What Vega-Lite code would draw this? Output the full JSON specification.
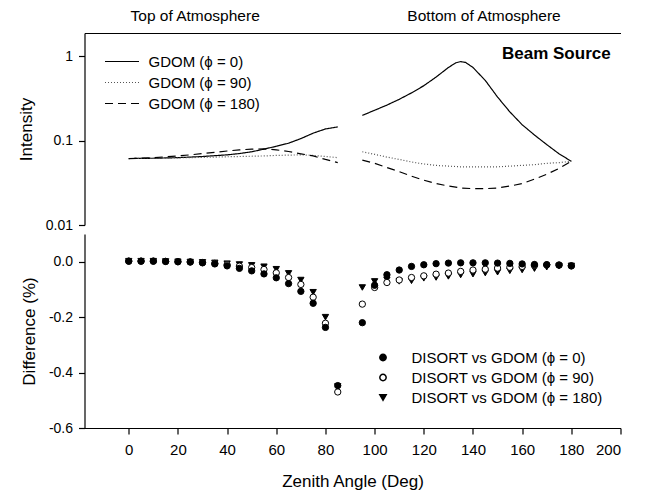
{
  "$schema": "https://vega.github.io/schema/vega-lite/v6.json",
  "padding": {"left": 16.5, "top": 8, "right": 5, "bottom": 2},
  "config": {
    "view": {"stroke": null},
    "font": "Liberation Sans",
    "axis": {"grid": false, "domainColor": "black", "tickColor": "black", "labelColor": "black", "titleColor": "black", "labelFontSize": 14, "titleFontSize": 17, "titleFontWeight": "normal", "tickSize": 6, "labelPadding": 6, "domainWidth": 1.2, "tickWidth": 1.2},
    "rule": {"color": "black", "strokeWidth": 1.2},
    "text": {"color": "black"}
  },
  "datasets": {
    "intensity": [
      {"angle": 0, "intensity": 0.0615, "series": "GDOM (ϕ = 0)", "part": "top"},
      {"angle": 5, "intensity": 0.0617, "series": "GDOM (ϕ = 0)", "part": "top"},
      {"angle": 10, "intensity": 0.062, "series": "GDOM (ϕ = 0)", "part": "top"},
      {"angle": 15, "intensity": 0.0625, "series": "GDOM (ϕ = 0)", "part": "top"},
      {"angle": 20, "intensity": 0.063, "series": "GDOM (ϕ = 0)", "part": "top"},
      {"angle": 25, "intensity": 0.064, "series": "GDOM (ϕ = 0)", "part": "top"},
      {"angle": 30, "intensity": 0.065, "series": "GDOM (ϕ = 0)", "part": "top"},
      {"angle": 35, "intensity": 0.0665, "series": "GDOM (ϕ = 0)", "part": "top"},
      {"angle": 40, "intensity": 0.068, "series": "GDOM (ϕ = 0)", "part": "top"},
      {"angle": 45, "intensity": 0.0705, "series": "GDOM (ϕ = 0)", "part": "top"},
      {"angle": 50, "intensity": 0.074, "series": "GDOM (ϕ = 0)", "part": "top"},
      {"angle": 55, "intensity": 0.0795, "series": "GDOM (ϕ = 0)", "part": "top"},
      {"angle": 60, "intensity": 0.086, "series": "GDOM (ϕ = 0)", "part": "top"},
      {"angle": 65, "intensity": 0.0935, "series": "GDOM (ϕ = 0)", "part": "top"},
      {"angle": 70, "intensity": 0.106, "series": "GDOM (ϕ = 0)", "part": "top"},
      {"angle": 75, "intensity": 0.123, "series": "GDOM (ϕ = 0)", "part": "top"},
      {"angle": 80, "intensity": 0.138, "series": "GDOM (ϕ = 0)", "part": "top"},
      {"angle": 85, "intensity": 0.146, "series": "GDOM (ϕ = 0)", "part": "top"},
      {"angle": 95, "intensity": 0.2, "series": "GDOM (ϕ = 0)", "part": "bottom"},
      {"angle": 100, "intensity": 0.23, "series": "GDOM (ϕ = 0)", "part": "bottom"},
      {"angle": 105, "intensity": 0.265, "series": "GDOM (ϕ = 0)", "part": "bottom"},
      {"angle": 110, "intensity": 0.31, "series": "GDOM (ϕ = 0)", "part": "bottom"},
      {"angle": 115, "intensity": 0.37, "series": "GDOM (ϕ = 0)", "part": "bottom"},
      {"angle": 120, "intensity": 0.45, "series": "GDOM (ϕ = 0)", "part": "bottom"},
      {"angle": 125, "intensity": 0.57, "series": "GDOM (ϕ = 0)", "part": "bottom"},
      {"angle": 130, "intensity": 0.74, "series": "GDOM (ϕ = 0)", "part": "bottom"},
      {"angle": 133, "intensity": 0.84, "series": "GDOM (ϕ = 0)", "part": "bottom"},
      {"angle": 135, "intensity": 0.87, "series": "GDOM (ϕ = 0)", "part": "bottom"},
      {"angle": 137, "intensity": 0.85, "series": "GDOM (ϕ = 0)", "part": "bottom"},
      {"angle": 140, "intensity": 0.74, "series": "GDOM (ϕ = 0)", "part": "bottom"},
      {"angle": 145, "intensity": 0.52, "series": "GDOM (ϕ = 0)", "part": "bottom"},
      {"angle": 150, "intensity": 0.33, "series": "GDOM (ϕ = 0)", "part": "bottom"},
      {"angle": 155, "intensity": 0.22, "series": "GDOM (ϕ = 0)", "part": "bottom"},
      {"angle": 160, "intensity": 0.155, "series": "GDOM (ϕ = 0)", "part": "bottom"},
      {"angle": 165, "intensity": 0.117, "series": "GDOM (ϕ = 0)", "part": "bottom"},
      {"angle": 170, "intensity": 0.09, "series": "GDOM (ϕ = 0)", "part": "bottom"},
      {"angle": 175, "intensity": 0.07, "series": "GDOM (ϕ = 0)", "part": "bottom"},
      {"angle": 180, "intensity": 0.057, "series": "GDOM (ϕ = 0)", "part": "bottom"},

      {"angle": 0, "intensity": 0.0615, "series": "GDOM (ϕ = 90)", "part": "top"},
      {"angle": 5, "intensity": 0.0617, "series": "GDOM (ϕ = 90)", "part": "top"},
      {"angle": 10, "intensity": 0.062, "series": "GDOM (ϕ = 90)", "part": "top"},
      {"angle": 15, "intensity": 0.0623, "series": "GDOM (ϕ = 90)", "part": "top"},
      {"angle": 20, "intensity": 0.0627, "series": "GDOM (ϕ = 90)", "part": "top"},
      {"angle": 25, "intensity": 0.063, "series": "GDOM (ϕ = 90)", "part": "top"},
      {"angle": 30, "intensity": 0.0635, "series": "GDOM (ϕ = 90)", "part": "top"},
      {"angle": 35, "intensity": 0.064, "series": "GDOM (ϕ = 90)", "part": "top"},
      {"angle": 40, "intensity": 0.0645, "series": "GDOM (ϕ = 90)", "part": "top"},
      {"angle": 45, "intensity": 0.065, "series": "GDOM (ϕ = 90)", "part": "top"},
      {"angle": 50, "intensity": 0.0655, "series": "GDOM (ϕ = 90)", "part": "top"},
      {"angle": 55, "intensity": 0.066, "series": "GDOM (ϕ = 90)", "part": "top"},
      {"angle": 60, "intensity": 0.067, "series": "GDOM (ϕ = 90)", "part": "top"},
      {"angle": 65, "intensity": 0.0675, "series": "GDOM (ϕ = 90)", "part": "top"},
      {"angle": 70, "intensity": 0.068, "series": "GDOM (ϕ = 90)", "part": "top"},
      {"angle": 75, "intensity": 0.067, "series": "GDOM (ϕ = 90)", "part": "top"},
      {"angle": 80, "intensity": 0.065, "series": "GDOM (ϕ = 90)", "part": "top"},
      {"angle": 85, "intensity": 0.063, "series": "GDOM (ϕ = 90)", "part": "top"},
      {"angle": 95, "intensity": 0.074, "series": "GDOM (ϕ = 90)", "part": "bottom"},
      {"angle": 100, "intensity": 0.069, "series": "GDOM (ϕ = 90)", "part": "bottom"},
      {"angle": 105, "intensity": 0.064, "series": "GDOM (ϕ = 90)", "part": "bottom"},
      {"angle": 110, "intensity": 0.06, "series": "GDOM (ϕ = 90)", "part": "bottom"},
      {"angle": 115, "intensity": 0.056, "series": "GDOM (ϕ = 90)", "part": "bottom"},
      {"angle": 120, "intensity": 0.053, "series": "GDOM (ϕ = 90)", "part": "bottom"},
      {"angle": 125, "intensity": 0.051, "series": "GDOM (ϕ = 90)", "part": "bottom"},
      {"angle": 130, "intensity": 0.05, "series": "GDOM (ϕ = 90)", "part": "bottom"},
      {"angle": 135, "intensity": 0.049, "series": "GDOM (ϕ = 90)", "part": "bottom"},
      {"angle": 140, "intensity": 0.049, "series": "GDOM (ϕ = 90)", "part": "bottom"},
      {"angle": 145, "intensity": 0.049, "series": "GDOM (ϕ = 90)", "part": "bottom"},
      {"angle": 150, "intensity": 0.049, "series": "GDOM (ϕ = 90)", "part": "bottom"},
      {"angle": 155, "intensity": 0.05, "series": "GDOM (ϕ = 90)", "part": "bottom"},
      {"angle": 160, "intensity": 0.051, "series": "GDOM (ϕ = 90)", "part": "bottom"},
      {"angle": 165, "intensity": 0.052, "series": "GDOM (ϕ = 90)", "part": "bottom"},
      {"angle": 170, "intensity": 0.054, "series": "GDOM (ϕ = 90)", "part": "bottom"},
      {"angle": 175, "intensity": 0.055, "series": "GDOM (ϕ = 90)", "part": "bottom"},
      {"angle": 180, "intensity": 0.057, "series": "GDOM (ϕ = 90)", "part": "bottom"},

      {"angle": 0, "intensity": 0.0615, "series": "GDOM (ϕ = 180)", "part": "top"},
      {"angle": 5, "intensity": 0.062, "series": "GDOM (ϕ = 180)", "part": "top"},
      {"angle": 10, "intensity": 0.063, "series": "GDOM (ϕ = 180)", "part": "top"},
      {"angle": 15, "intensity": 0.0645, "series": "GDOM (ϕ = 180)", "part": "top"},
      {"angle": 20, "intensity": 0.066, "series": "GDOM (ϕ = 180)", "part": "top"},
      {"angle": 25, "intensity": 0.068, "series": "GDOM (ϕ = 180)", "part": "top"},
      {"angle": 30, "intensity": 0.0705, "series": "GDOM (ϕ = 180)", "part": "top"},
      {"angle": 35, "intensity": 0.073, "series": "GDOM (ϕ = 180)", "part": "top"},
      {"angle": 40, "intensity": 0.0755, "series": "GDOM (ϕ = 180)", "part": "top"},
      {"angle": 45, "intensity": 0.078, "series": "GDOM (ϕ = 180)", "part": "top"},
      {"angle": 50, "intensity": 0.0795, "series": "GDOM (ϕ = 180)", "part": "top"},
      {"angle": 55, "intensity": 0.08, "series": "GDOM (ϕ = 180)", "part": "top"},
      {"angle": 60, "intensity": 0.078, "series": "GDOM (ϕ = 180)", "part": "top"},
      {"angle": 65, "intensity": 0.0745, "series": "GDOM (ϕ = 180)", "part": "top"},
      {"angle": 70, "intensity": 0.07, "series": "GDOM (ϕ = 180)", "part": "top"},
      {"angle": 75, "intensity": 0.066, "series": "GDOM (ϕ = 180)", "part": "top"},
      {"angle": 80, "intensity": 0.06, "series": "GDOM (ϕ = 180)", "part": "top"},
      {"angle": 85, "intensity": 0.055, "series": "GDOM (ϕ = 180)", "part": "top"},
      {"angle": 95, "intensity": 0.059, "series": "GDOM (ϕ = 180)", "part": "bottom"},
      {"angle": 100, "intensity": 0.054, "series": "GDOM (ϕ = 180)", "part": "bottom"},
      {"angle": 105, "intensity": 0.048, "series": "GDOM (ϕ = 180)", "part": "bottom"},
      {"angle": 110, "intensity": 0.043, "series": "GDOM (ϕ = 180)", "part": "bottom"},
      {"angle": 115, "intensity": 0.038, "series": "GDOM (ϕ = 180)", "part": "bottom"},
      {"angle": 120, "intensity": 0.034, "series": "GDOM (ϕ = 180)", "part": "bottom"},
      {"angle": 125, "intensity": 0.031, "series": "GDOM (ϕ = 180)", "part": "bottom"},
      {"angle": 130, "intensity": 0.029, "series": "GDOM (ϕ = 180)", "part": "bottom"},
      {"angle": 135, "intensity": 0.0275, "series": "GDOM (ϕ = 180)", "part": "bottom"},
      {"angle": 140, "intensity": 0.027, "series": "GDOM (ϕ = 180)", "part": "bottom"},
      {"angle": 145, "intensity": 0.027, "series": "GDOM (ϕ = 180)", "part": "bottom"},
      {"angle": 150, "intensity": 0.0275, "series": "GDOM (ϕ = 180)", "part": "bottom"},
      {"angle": 155, "intensity": 0.029, "series": "GDOM (ϕ = 180)", "part": "bottom"},
      {"angle": 160, "intensity": 0.031, "series": "GDOM (ϕ = 180)", "part": "bottom"},
      {"angle": 165, "intensity": 0.035, "series": "GDOM (ϕ = 180)", "part": "bottom"},
      {"angle": 170, "intensity": 0.04, "series": "GDOM (ϕ = 180)", "part": "bottom"},
      {"angle": 175, "intensity": 0.047, "series": "GDOM (ϕ = 180)", "part": "bottom"},
      {"angle": 180, "intensity": 0.057, "series": "GDOM (ϕ = 180)", "part": "bottom"}
    ],
    "diff": [
      {"angle": 0, "diff": 0.002, "series": "DISORT vs GDOM (ϕ = 180)"},
      {"angle": 5, "diff": 0.002, "series": "DISORT vs GDOM (ϕ = 180)"},
      {"angle": 10, "diff": 0.002, "series": "DISORT vs GDOM (ϕ = 180)"},
      {"angle": 15, "diff": 0.001, "series": "DISORT vs GDOM (ϕ = 180)"},
      {"angle": 20, "diff": 0.0, "series": "DISORT vs GDOM (ϕ = 180)"},
      {"angle": 25, "diff": -0.001, "series": "DISORT vs GDOM (ϕ = 180)"},
      {"angle": 30, "diff": -0.002, "series": "DISORT vs GDOM (ϕ = 180)"},
      {"angle": 35, "diff": -0.004, "series": "DISORT vs GDOM (ϕ = 180)"},
      {"angle": 40, "diff": -0.007, "series": "DISORT vs GDOM (ϕ = 180)"},
      {"angle": 45, "diff": -0.01, "series": "DISORT vs GDOM (ϕ = 180)"},
      {"angle": 50, "diff": -0.013, "series": "DISORT vs GDOM (ϕ = 180)"},
      {"angle": 55, "diff": -0.018, "series": "DISORT vs GDOM (ϕ = 180)"},
      {"angle": 60, "diff": -0.027, "series": "DISORT vs GDOM (ϕ = 180)"},
      {"angle": 65, "diff": -0.042, "series": "DISORT vs GDOM (ϕ = 180)"},
      {"angle": 70, "diff": -0.066, "series": "DISORT vs GDOM (ϕ = 180)"},
      {"angle": 75, "diff": -0.11, "series": "DISORT vs GDOM (ϕ = 180)"},
      {"angle": 80, "diff": -0.2, "series": "DISORT vs GDOM (ϕ = 180)"},
      {"angle": 85, "diff": -0.45, "series": "DISORT vs GDOM (ϕ = 180)"},
      {"angle": 95, "diff": -0.093, "series": "DISORT vs GDOM (ϕ = 180)"},
      {"angle": 100, "diff": -0.071, "series": "DISORT vs GDOM (ϕ = 180)"},
      {"angle": 105, "diff": -0.065, "series": "DISORT vs GDOM (ϕ = 180)"},
      {"angle": 110, "diff": -0.071, "series": "DISORT vs GDOM (ϕ = 180)"},
      {"angle": 115, "diff": -0.069, "series": "DISORT vs GDOM (ϕ = 180)"},
      {"angle": 120, "diff": -0.06, "series": "DISORT vs GDOM (ϕ = 180)"},
      {"angle": 125, "diff": -0.057, "series": "DISORT vs GDOM (ϕ = 180)"},
      {"angle": 130, "diff": -0.053, "series": "DISORT vs GDOM (ϕ = 180)"},
      {"angle": 135, "diff": -0.048, "series": "DISORT vs GDOM (ϕ = 180)"},
      {"angle": 140, "diff": -0.045, "series": "DISORT vs GDOM (ϕ = 180)"},
      {"angle": 145, "diff": -0.041, "series": "DISORT vs GDOM (ϕ = 180)"},
      {"angle": 150, "diff": -0.038, "series": "DISORT vs GDOM (ϕ = 180)"},
      {"angle": 155, "diff": -0.033, "series": "DISORT vs GDOM (ϕ = 180)"},
      {"angle": 160, "diff": -0.03, "series": "DISORT vs GDOM (ϕ = 180)"},
      {"angle": 165, "diff": -0.025, "series": "DISORT vs GDOM (ϕ = 180)"},
      {"angle": 170, "diff": -0.02, "series": "DISORT vs GDOM (ϕ = 180)"},
      {"angle": 175, "diff": -0.016, "series": "DISORT vs GDOM (ϕ = 180)"},
      {"angle": 180, "diff": -0.015, "series": "DISORT vs GDOM (ϕ = 180)"},

      {"angle": 0, "diff": 0.002, "series": "DISORT vs GDOM (ϕ = 90)"},
      {"angle": 5, "diff": 0.002, "series": "DISORT vs GDOM (ϕ = 90)"},
      {"angle": 10, "diff": 0.002, "series": "DISORT vs GDOM (ϕ = 90)"},
      {"angle": 15, "diff": 0.001, "series": "DISORT vs GDOM (ϕ = 90)"},
      {"angle": 20, "diff": 0.0, "series": "DISORT vs GDOM (ϕ = 90)"},
      {"angle": 25, "diff": -0.001, "series": "DISORT vs GDOM (ϕ = 90)"},
      {"angle": 30, "diff": -0.003, "series": "DISORT vs GDOM (ϕ = 90)"},
      {"angle": 35, "diff": -0.006, "series": "DISORT vs GDOM (ϕ = 90)"},
      {"angle": 40, "diff": -0.011, "series": "DISORT vs GDOM (ϕ = 90)"},
      {"angle": 45, "diff": -0.016, "series": "DISORT vs GDOM (ϕ = 90)"},
      {"angle": 50, "diff": -0.021, "series": "DISORT vs GDOM (ϕ = 90)"},
      {"angle": 55, "diff": -0.028, "series": "DISORT vs GDOM (ϕ = 90)"},
      {"angle": 60, "diff": -0.04, "series": "DISORT vs GDOM (ϕ = 90)"},
      {"angle": 65, "diff": -0.057, "series": "DISORT vs GDOM (ϕ = 90)"},
      {"angle": 70, "diff": -0.082, "series": "DISORT vs GDOM (ϕ = 90)"},
      {"angle": 75, "diff": -0.128, "series": "DISORT vs GDOM (ϕ = 90)"},
      {"angle": 80, "diff": -0.222, "series": "DISORT vs GDOM (ϕ = 90)"},
      {"angle": 85, "diff": -0.47, "series": "DISORT vs GDOM (ϕ = 90)"},
      {"angle": 95, "diff": -0.153, "series": "DISORT vs GDOM (ϕ = 90)"},
      {"angle": 100, "diff": -0.093, "series": "DISORT vs GDOM (ϕ = 90)"},
      {"angle": 105, "diff": -0.075, "series": "DISORT vs GDOM (ϕ = 90)"},
      {"angle": 110, "diff": -0.066, "series": "DISORT vs GDOM (ϕ = 90)"},
      {"angle": 115, "diff": -0.057, "series": "DISORT vs GDOM (ϕ = 90)"},
      {"angle": 120, "diff": -0.051, "series": "DISORT vs GDOM (ϕ = 90)"},
      {"angle": 125, "diff": -0.045, "series": "DISORT vs GDOM (ϕ = 90)"},
      {"angle": 130, "diff": -0.041, "series": "DISORT vs GDOM (ϕ = 90)"},
      {"angle": 135, "diff": -0.035, "series": "DISORT vs GDOM (ϕ = 90)"},
      {"angle": 140, "diff": -0.03, "series": "DISORT vs GDOM (ϕ = 90)"},
      {"angle": 145, "diff": -0.027, "series": "DISORT vs GDOM (ϕ = 90)"},
      {"angle": 150, "diff": -0.023, "series": "DISORT vs GDOM (ϕ = 90)"},
      {"angle": 155, "diff": -0.02, "series": "DISORT vs GDOM (ϕ = 90)"},
      {"angle": 160, "diff": -0.017, "series": "DISORT vs GDOM (ϕ = 90)"},
      {"angle": 165, "diff": -0.013, "series": "DISORT vs GDOM (ϕ = 90)"},
      {"angle": 170, "diff": -0.011, "series": "DISORT vs GDOM (ϕ = 90)"},
      {"angle": 175, "diff": -0.012, "series": "DISORT vs GDOM (ϕ = 90)"},
      {"angle": 180, "diff": -0.015, "series": "DISORT vs GDOM (ϕ = 90)"},

      {"angle": 0, "diff": 0.002, "series": "DISORT vs GDOM (ϕ = 0)"},
      {"angle": 5, "diff": 0.002, "series": "DISORT vs GDOM (ϕ = 0)"},
      {"angle": 10, "diff": 0.002, "series": "DISORT vs GDOM (ϕ = 0)"},
      {"angle": 15, "diff": 0.001, "series": "DISORT vs GDOM (ϕ = 0)"},
      {"angle": 20, "diff": 0.0, "series": "DISORT vs GDOM (ϕ = 0)"},
      {"angle": 25, "diff": -0.001, "series": "DISORT vs GDOM (ϕ = 0)"},
      {"angle": 30, "diff": -0.004, "series": "DISORT vs GDOM (ϕ = 0)"},
      {"angle": 35, "diff": -0.008, "series": "DISORT vs GDOM (ϕ = 0)"},
      {"angle": 40, "diff": -0.015, "series": "DISORT vs GDOM (ϕ = 0)"},
      {"angle": 45, "diff": -0.024, "series": "DISORT vs GDOM (ϕ = 0)"},
      {"angle": 50, "diff": -0.033, "series": "DISORT vs GDOM (ϕ = 0)"},
      {"angle": 55, "diff": -0.044, "series": "DISORT vs GDOM (ϕ = 0)"},
      {"angle": 60, "diff": -0.058, "series": "DISORT vs GDOM (ϕ = 0)"},
      {"angle": 65, "diff": -0.079, "series": "DISORT vs GDOM (ϕ = 0)"},
      {"angle": 70, "diff": -0.107, "series": "DISORT vs GDOM (ϕ = 0)"},
      {"angle": 75, "diff": -0.15, "series": "DISORT vs GDOM (ϕ = 0)"},
      {"angle": 80, "diff": -0.237, "series": "DISORT vs GDOM (ϕ = 0)"},
      {"angle": 85, "diff": -0.447, "series": "DISORT vs GDOM (ϕ = 0)"},
      {"angle": 95, "diff": -0.22, "series": "DISORT vs GDOM (ϕ = 0)"},
      {"angle": 100, "diff": -0.085, "series": "DISORT vs GDOM (ϕ = 0)"},
      {"angle": 105, "diff": -0.047, "series": "DISORT vs GDOM (ϕ = 0)"},
      {"angle": 110, "diff": -0.03, "series": "DISORT vs GDOM (ϕ = 0)"},
      {"angle": 115, "diff": -0.017, "series": "DISORT vs GDOM (ϕ = 0)"},
      {"angle": 120, "diff": -0.011, "series": "DISORT vs GDOM (ϕ = 0)"},
      {"angle": 125, "diff": -0.007, "series": "DISORT vs GDOM (ϕ = 0)"},
      {"angle": 130, "diff": -0.005, "series": "DISORT vs GDOM (ϕ = 0)"},
      {"angle": 135, "diff": -0.004, "series": "DISORT vs GDOM (ϕ = 0)"},
      {"angle": 140, "diff": -0.004, "series": "DISORT vs GDOM (ϕ = 0)"},
      {"angle": 145, "diff": -0.004, "series": "DISORT vs GDOM (ϕ = 0)"},
      {"angle": 150, "diff": -0.005, "series": "DISORT vs GDOM (ϕ = 0)"},
      {"angle": 155, "diff": -0.006, "series": "DISORT vs GDOM (ϕ = 0)"},
      {"angle": 160, "diff": -0.008, "series": "DISORT vs GDOM (ϕ = 0)"},
      {"angle": 165, "diff": -0.01, "series": "DISORT vs GDOM (ϕ = 0)"},
      {"angle": 170, "diff": -0.011, "series": "DISORT vs GDOM (ϕ = 0)"},
      {"angle": 175, "diff": -0.012, "series": "DISORT vs GDOM (ϕ = 0)"},
      {"angle": 180, "diff": -0.015, "series": "DISORT vs GDOM (ϕ = 0)"}
    ]
  },
  "spacing": 2,
  "resolve": {
    "scale": {"color": "independent", "strokeDash": "independent", "shape": "independent", "fill": "independent"},
    "legend": {"color": "independent", "strokeDash": "independent", "shape": "independent", "fill": "independent"}
  },
  "vconcat": [
    {
      "width": 536,
      "height": 192,
      "layer": [
        {
          "data": {"name": "intensity"},
          "mark": {"type": "line", "strokeWidth": 1.2},
          "encoding": {
            "x": {"field": "angle", "type": "quantitative", "scale": {"domain": [-18, 200], "nice": false, "zero": false}, "axis": {"orient": "top", "labels": false, "ticks": false, "title": null}},
            "y": {"field": "intensity", "type": "quantitative", "scale": {"type": "log", "domain": [0.01, 1.9], "nice": false}, "axis": {"values": [0.01, 0.1, 1], "format": "~g", "title": "Intensity", "titlePadding": 10}},
            "detail": {"field": "part"},
            "strokeDash": {"field": "series", "type": "nominal", "scale": {"domain": ["GDOM (ϕ = 0)", "GDOM (ϕ = 90)", "GDOM (ϕ = 180)"], "range": [[1, 0], [1, 2], [8, 5]]},
              "legend": {"orient": "none", "legendX": 30, "legendY": 21, "title": null, "symbolType": "M-2.5,0H2.5", "symbolSize": 185, "symbolStrokeWidth": 1.2, "labelFontSize": 15, "labelOffset": 19, "rowPadding": 5, "padding": 0, "labelColor": "black", "labelLimit": 300}},
            "color": {"field": "series", "type": "nominal", "scale": {"domain": ["GDOM (ϕ = 0)", "GDOM (ϕ = 90)", "GDOM (ϕ = 180)"], "range": ["#000000", "#555555", "#000000"]},
              "legend": {"orient": "none", "legendX": 30, "legendY": 21, "title": null, "symbolType": "M-2.5,0H2.5", "symbolSize": 185, "symbolStrokeWidth": 1.2, "labelFontSize": 15, "labelOffset": 19, "rowPadding": 5, "padding": 0, "labelColor": "black", "labelLimit": 300}}
          }
        },
        {"mark": {"type": "rule"}, "encoding": {"x": {"datum": 200}}},
        {"data": {"values": [{"label": "Beam Source"}]}, "mark": {"type": "text", "align": "right", "baseline": "middle", "fontWeight": "bold", "fontSize": 17, "color": "black"}, "encoding": {"x": {"datum": 196, "type": "quantitative"}, "y": {"datum": 1.07, "type": "quantitative"}, "text": {"field": "label"}}},
        {"data": {"values": [{"label": "Top of Atmosphere"}]}, "mark": {"type": "text", "align": "center", "baseline": "middle", "fontSize": 15.5, "color": "black"}, "encoding": {"x": {"datum": 27, "type": "quantitative"}, "y": {"datum": 3.05, "type": "quantitative"}, "text": {"field": "label"}}},
        {"data": {"values": [{"label": "Bottom of Atmosphere"}]}, "mark": {"type": "text", "align": "center", "baseline": "middle", "fontSize": 15.5, "color": "black"}, "encoding": {"x": {"datum": 144.5, "type": "quantitative"}, "y": {"datum": 3.05, "type": "quantitative"}, "text": {"field": "label"}}}
      ]
    },
    {
      "width": 536,
      "height": 194,
      "layer": [
        {
          "data": {"name": "diff"},
          "mark": {"type": "point", "filled": true, "size": 40, "stroke": "black", "strokeWidth": 1, "opacity": 1},
          "encoding": {
            "x": {"field": "angle", "type": "quantitative", "scale": {"domain": [-18, 200], "nice": false, "zero": false}, "axis": {"values": [0, 20, 40, 60, 80, 100, 120, 140, 160, 180, 200], "title": "Zenith Angle (Deg)", "labelFontSize": 15, "labelPadding": 8, "titlePadding": 16}},
            "y": {"field": "diff", "type": "quantitative", "scale": {"domain": [-0.6, 0.1], "nice": false, "zero": false}, "axis": {"values": [-0.6, -0.4, -0.2, 0], "labelExpr": "datum.value == 0 ? '0.0' : toString(datum.value)", "title": "Difference (%)", "titlePadding": 10}},
            "shape": {"field": "series", "type": "nominal", "scale": {"domain": ["DISORT vs GDOM (ϕ = 0)", "DISORT vs GDOM (ϕ = 90)", "DISORT vs GDOM (ϕ = 180)"], "range": ["circle", "circle", "triangle-down"]},
              "legend": {"orient": "none", "legendX": 291, "legendY": 116, "title": null, "symbolSize": 40, "labelFontSize": 15, "labelOffset": 21, "rowPadding": 4, "padding": 0, "labelColor": "black", "labelLimit": 300,
                "encode": {"symbols": {"update": {"stroke": {"value": "black"}, "strokeWidth": {"value": 1}}}}}},
            "fill": {"field": "series", "type": "nominal", "scale": {"domain": ["DISORT vs GDOM (ϕ = 0)", "DISORT vs GDOM (ϕ = 90)", "DISORT vs GDOM (ϕ = 180)"], "range": ["#000000", "#ffffff", "#000000"]},
              "legend": {"orient": "none", "legendX": 291, "legendY": 116, "title": null, "symbolSize": 40, "labelFontSize": 15, "labelOffset": 21, "rowPadding": 4, "padding": 0, "labelColor": "black", "labelLimit": 300,
                "encode": {"symbols": {"update": {"stroke": {"value": "black"}, "strokeWidth": {"value": 1}}}}}}
          }
        },
        {"mark": {"type": "rule"}, "encoding": {"x": {"datum": 200}}}
      ]
    }
  ]
}
